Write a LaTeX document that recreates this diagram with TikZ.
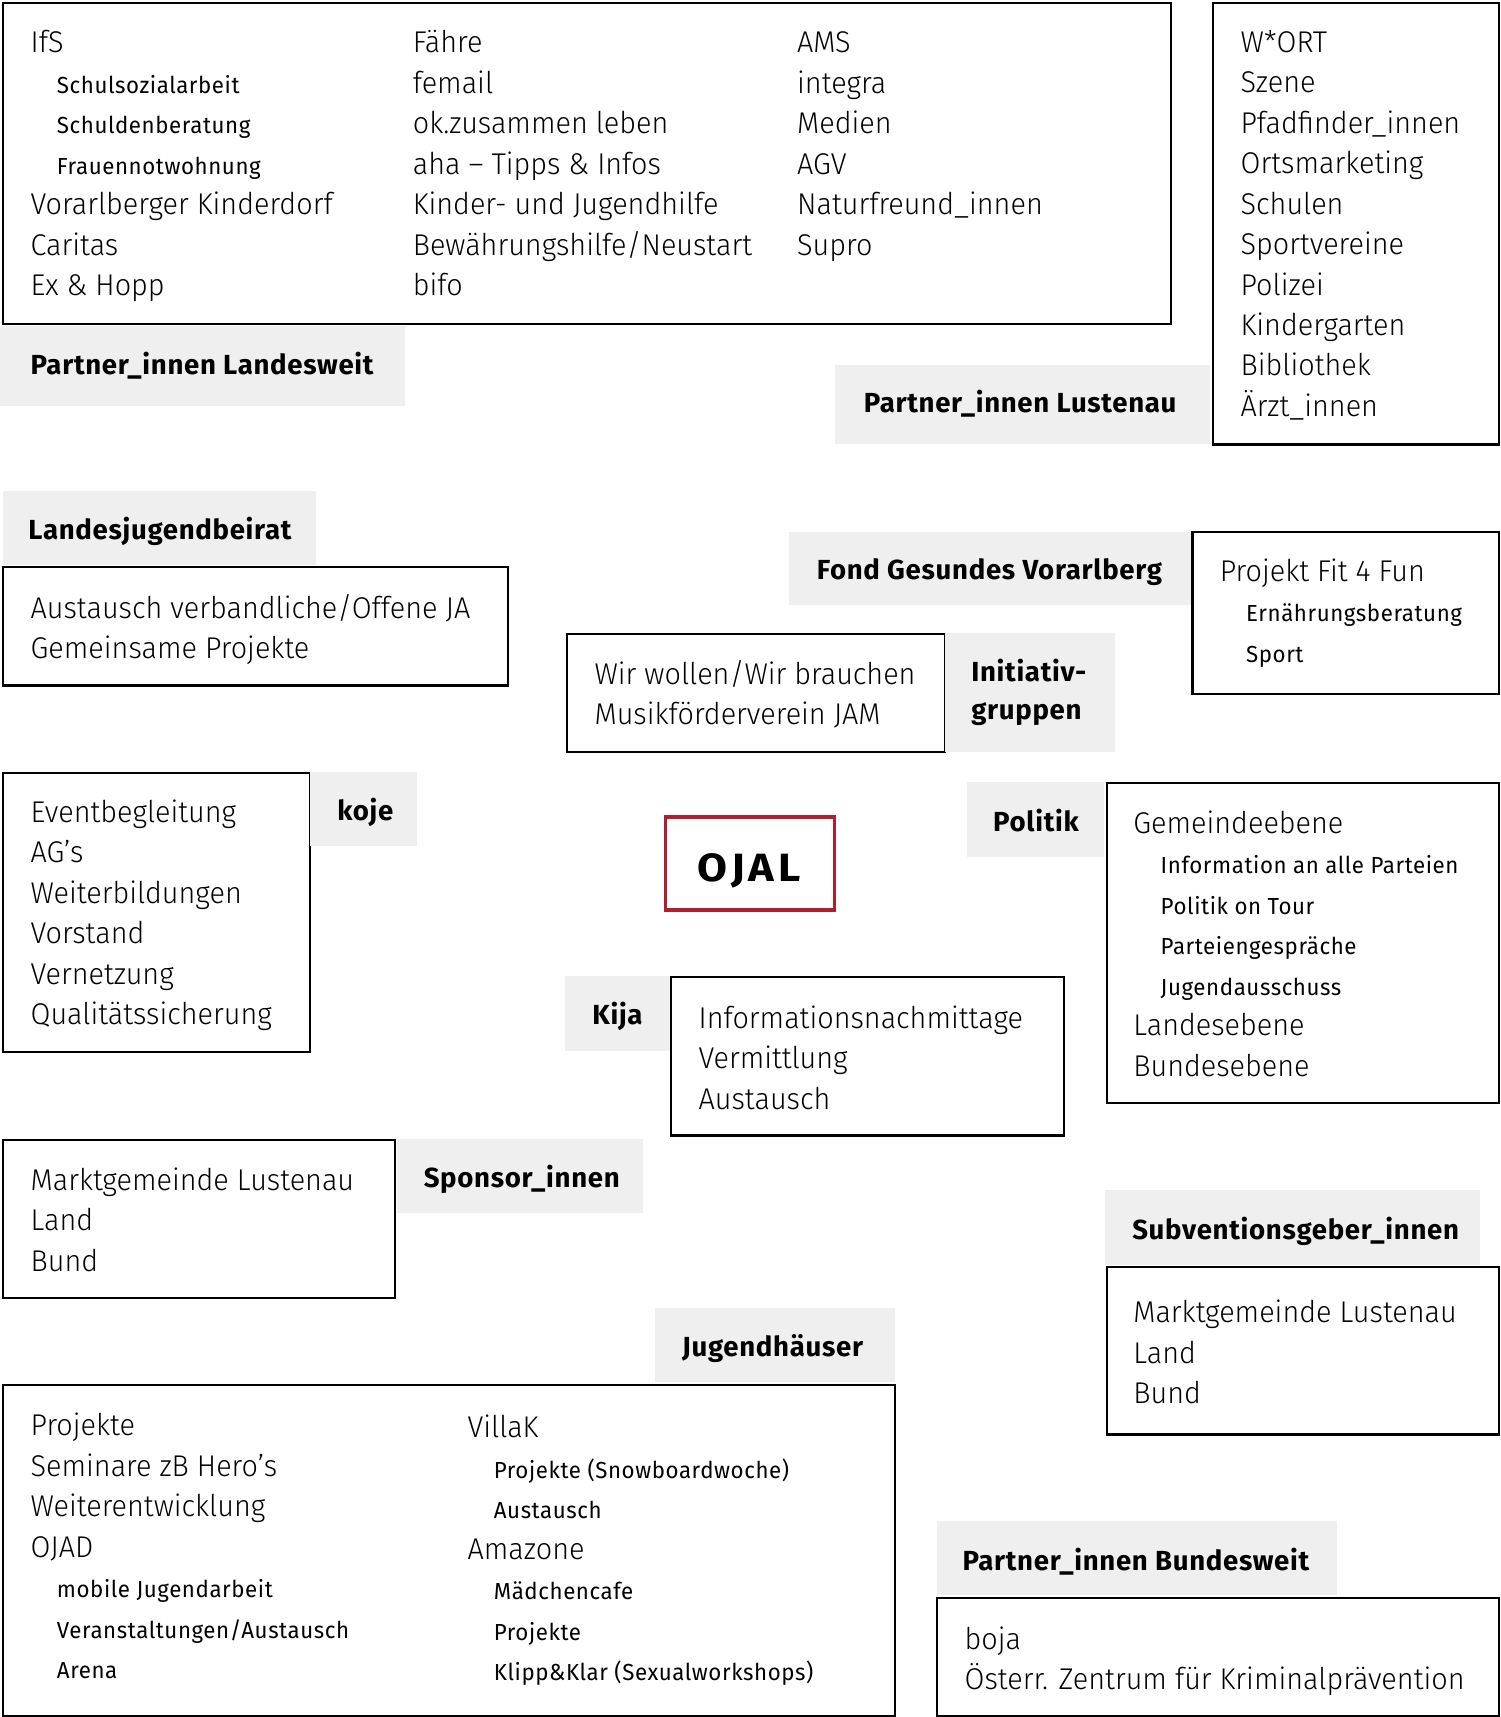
\documentclass[tikz,border=0pt]{standalone}
\usepackage{fontspec}
\newfontfamily\regfam{Fira Sans Light}[FakeStretch=0.96]
\newfontfamily\subfam{Fira Sans}[LetterSpace=2.5, FakeStretch=0.96]
\newfontfamily\hdfam{Fira Sans Bold}[LetterSpace=2.5]
\newfontfamily\ojfam{Fira Sans Bold}[LetterSpace=10, FakeStretch=1.1]
\definecolor{labgray}{RGB}{238,239,238}
\definecolor{ojalred}{RGB}{176,30,47}
\newcommand\fR{\regfam\fontsize{13.7}{16}\selectfont}
\newcommand\fS{\subfam\fontsize{10.6}{13}\selectfont}
\newcommand\fH{\hdfam\fontsize{12.6}{15}\selectfont}
\tikzset{
  boxed/.style={draw=black, line width=1pt, fill=white, inner sep=0pt},
  lab/.style={fill=labgray, draw=none, inner sep=0pt},
  txt/.style={anchor=base west, inner sep=0pt, outer sep=0pt},
  hd/.style={txt, font=\fH},
}
% box: style, name, x1, y1, x2, y2
\newcommand\mybox[6]{\node[#1, anchor=north west, minimum width={(#5-#3)*0.5pt}, minimum height={(#6-#4)*0.5pt}] (#2) at (#3,#4) {};}
% lines: name prefix, x, first baseline, spacing, list font/dx/text
\newcommand\mylines[5]{\foreach \f/\d/\t [count=\i] in {#5} {\node[txt, font=\f] (#1\i) at ({#2+\d},{#3+#4*(\i-1)}) {\t};}}
\begin{document}
\begin{tikzpicture}[x=0.5pt, y=-0.5pt]
\useasboundingbox (0,0) rectangle (1370,1568);
% ---------- Partner_innen Landesweit
\mybox{boxed}{landesbox}{2}{2}{1068}{295}
\mylines{lwA}{28}{48}{37}{\fR/0/IfS, \fS/24/Schulsozialarbeit, \fS/24/Schuldenberatung, \fS/24/Frauennotwohnung, \fR/0/Vorarlberger Kinderdorf, \fR/0/Caritas, \fR/0/{Ex \& Hopp}}
\mylines{lwB}{377}{48}{37}{\fR/0/Fähre, \fR/0/femail, \fR/0/ok.zusammen leben, \fR/0/{aha – Tipps \& Infos}, \fR/0/Kinder- und Jugendhilfe, \fR/0/{Bewährungshilfe/Neustart}, \fR/0/bifo}
\mylines{lwC}{728}{48}{37}{\fR/0/AMS, \fR/0/integra, \fR/0/Medien, \fR/0/AGV, \fR/0/Naturfreund\_innen, \fR/0/Supro}
\mybox{lab}{landeslab}{0}{297}{369}{370}
\node[hd] (landestxt) at (28,342) {Partner\_innen Landesweit};
% ---------- Partner_innen Lustenau
\mybox{boxed}{lustbox}{1107}{2}{1368}{405}
\mylines{lu}{1133}{48}{36.9}{\fR/0/W*ORT, \fR/0/Szene, \fR/0/Pfadfinder\_innen, \fR/0/Ortsmarketing, \fR/0/Schulen, \fR/0/Sportvereine, \fR/0/Polizei, \fR/0/Kindergarten, \fR/0/Bibliothek, \fR/0/Ärzt\_innen}
\mybox{lab}{lustlab}{762}{333}{1105}{405}
\node[hd] (lusttxt) at (789,377) {Partner\_innen Lustenau};
% ---------- Landesjugendbeirat
\mybox{lab}{ljblab}{2}{448}{288}{516}
\node[hd] (ljbtxt) at (26,493) {Landesjugendbeirat};
\mybox{boxed}{ljbbox}{2}{517}{463}{625}
\mylines{ljb}{28}{565}{36}{\fR/0/{Austausch verbandliche/Offene JA}, \fR/0/Gemeinsame Projekte}
% ---------- Fond Gesundes Vorarlberg
\mybox{lab}{fondlab}{720}{485}{1087}{552}
\node[hd] (fondtxt) at (746,529) {Fond Gesundes Vorarlberg};
\mybox{boxed}{fondbox}{1088}{485}{1368}{633}
\mylines{fo}{1114}{531}{37}{\fR/0/Projekt Fit 4 Fun, \fS/24/Ernährungsberatung, \fS/24/Sport}
% ---------- Initiativgruppen
\mybox{boxed}{initbox}{517}{578}{862}{686}
\mylines{in}{543}{625}{37}{\fR/0/{Wir wollen/Wir brauchen}, \fR/0/Musikförderverein JAM}
\mybox{lab}{initlab}{863}{578}{1018}{686}
\node[hd] (inittxtA) at (887,622) {Initiativ-};
\node[hd] (inittxtB) at (887,657) {gruppen};
% ---------- koje
\mybox{boxed}{kojebox}{2}{705}{282}{960}
\mylines{ko}{28}{751}{37}{\fR/0/Eventbegleitung, \fR/0/AG’s, \fR/0/Weiterbildungen, \fR/0/Vorstand, \fR/0/Vernetzung, \fR/0/Qualitätssicherung}
\mybox{lab}{kojelab}{283}{705}{380}{772}
\node[hd] (kojetxt) at (308,749) {koje};
% ---------- OJAL
\node[draw=ojalred, line width=1.5pt, fill=white, minimum width=77pt, minimum height=42.5pt, inner sep=0pt] (ojal) at (685,788.5) {};
\node[anchor=base west, inner sep=0pt, font=\ojfam\fontsize{18}{20}\selectfont] (ojaltxt) at (637,805) {OJAL};
% ---------- Politik
\mybox{lab}{polilab}{883}{714}{1008}{782}
\node[hd] (politxt) at (907,759) {Politik};
\mybox{boxed}{polibox}{1010}{714}{1368}{1006}
\mylines{po}{1035}{761}{37}{\fR/0/Gemeindeebene, \fS/25/Information an alle Parteien, \fS/25/Politik on Tour, \fS/25/Parteiengespräche, \fS/25/Jugendausschuss, \fR/0/Landesebene, \fR/0/Bundesebene}
% ---------- Kija
\mybox{lab}{kijalab}{516}{891}{611}{959}
\node[hd] (kijatxt) at (541,936) {Kija};
\mybox{boxed}{kijabox}{612}{891}{971}{1036}
\mylines{ki}{638}{939}{37}{\fR/0/Informationsnachmittage, \fR/0/Vermittlung, \fR/0/Austausch}
% ---------- Sponsor_innen
\mybox{boxed}{sponbox}{2}{1040}{360}{1184}
\mylines{sp}{28}{1087}{37}{\fR/0/Marktgemeinde Lustenau, \fR/0/Land, \fR/0/Bund}
\mybox{lab}{sponlab}{362}{1040}{587}{1107}
\node[hd] (spontxt) at (387,1084) {Sponsor\_innen};
% ---------- Subventionsgeber_innen
\mybox{lab}{sublab}{1009}{1086}{1351}{1155}
\node[hd] (subtxt) at (1034,1132) {Subventionsgeber\_innen};
\mybox{boxed}{subbox}{1010}{1156}{1368}{1309}
\mylines{su}{1035}{1208}{37}{\fR/0/Marktgemeinde Lustenau, \fR/0/Land, \fR/0/Bund}
% ---------- Jugendhäuser
\mybox{lab}{jhlab}{598}{1194}{817}{1262}
\node[hd] (jhtxt) at (623,1239) {Jugendhäuser};
\mybox{boxed}{jhbox}{2}{1264}{816}{1566}
\mylines{jhA}{28}{1311}{37}{\fR/0/Projekte, \fR/0/Seminare zB Hero’s, \fR/0/Weiterentwicklung, \fR/0/OJAD, \fS/24/mobile Jugendarbeit, \fS/24/{Veranstaltungen/Austausch}, \fS/24/Arena}
\mylines{jhB}{427}{1313}{37}{\fR/0/VillaK, \fS/24/Projekte (Snowboardwoche), \fS/24/Austausch, \fR/0/Amazone, \fS/24/Mädchencafe, \fS/24/Projekte, \fS/24/{Klipp\&Klar (Sexualworkshops)}}
% ---------- Partner_innen Bundesweit
\mybox{lab}{bundlab}{855}{1389}{1221}{1456}
\node[hd] (bundtxt) at (879,1434) {Partner\_innen Bundesweit};
\mybox{boxed}{bundbox}{855}{1458}{1368}{1566}
\mylines{bu}{881}{1506}{37}{\fR/0/boja, \fR/0/Österr. Zentrum für Kriminalprävention}
\end{tikzpicture}
\end{document}
